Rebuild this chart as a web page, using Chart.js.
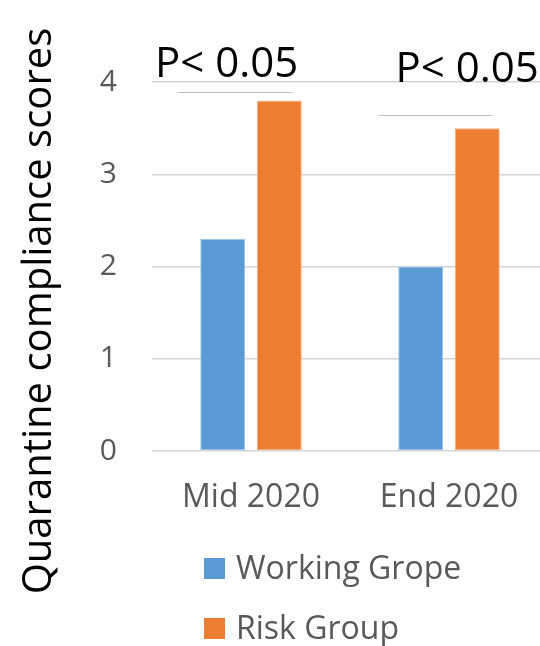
<!DOCTYPE html>
<html>
<head>
<meta charset="utf-8">
<script src="https://cdn.jsdelivr.net/npm/chart.js@4.4.1/dist/chart.umd.min.js"></script>
<style>
  html, body { margin: 0; padding: 0; background: #fff; overflow: hidden; }
  #wrap { width: 548px; height: 646px; position: relative; }
</style>
</head>
<body>
<div id="wrap"><canvas id="chart" width="548" height="646"></canvas></div>
<script>
// Survey periods and mean compliance score per group
const categories = ['Mid 2020', 'End 2020'];
const workingGroup = [2.3, 2.0];
const riskGroup = [3.8, 3.5];
const seriesNames = ['Working Grope', 'Risk Group'];
const yTicks = [0, 1, 2, 3, 4];
const significance = ['P< 0.05', 'P< 0.05'];
const yTitle = 'Quarantine compliance scores';

const BLUE = '#5B9BD5';
const ORANGE = '#ED7D31';
const FONT = "'Open Sans', sans-serif";

// Significance brackets: a thin line over each pair plus its p-value text.
// Line and text anchors are in axis units (category offset, score).
const brackets = [
  { line: { from: -0.371, to: 0.205, y: 3.89 }, text: { x: -0.485, y: 4.05 } },
  { line: { from: -0.356, to: 0.22, y: 3.64 }, text: { x: -0.27, y: 4.0 } }
];

const bracketPlugin = {
  id: 'bracketPlugin',
  afterDatasetsDraw(chart) {
    const { ctx, scales: { x, y } } = chart;
    const step = x.getPixelForValue(1) - x.getPixelForValue(0);
    ctx.save();
    brackets.forEach((b, i) => {
      const cx = x.getPixelForValue(i);
      ctx.strokeStyle = '#bfbfbf';
      ctx.lineWidth = 1;
      ctx.beginPath();
      const ly = Math.round(y.getPixelForValue(b.line.y)) + 0.5;
      ctx.moveTo(cx + b.line.from * step, ly);
      ctx.lineTo(cx + b.line.to * step, ly);
      ctx.stroke();
      ctx.fillStyle = '#000';
      ctx.font = '42px ' + FONT;
      ctx.textAlign = 'left';
      ctx.textBaseline = 'alphabetic';
      ctx.fillText(significance[i], cx + b.text.x * step, y.getPixelForValue(b.text.y));
    });
    ctx.restore();
  }
};

// Vertical axis title, centred on the full figure height
const sideTitle = {
  id: 'sideTitle',
  afterDraw(chart) {
    const { ctx } = chart;
    ctx.save();
    ctx.translate(40, 311);
    ctx.rotate(-Math.PI / 2);
    ctx.font = '40px ' + FONT;
    ctx.fillStyle = '#000';
    ctx.textAlign = 'center';
    ctx.textBaseline = 'middle';
    const w = ctx.measureText(yTitle).width;
    const s = Math.min(1, 578 / w);
    ctx.scale(s, 1);
    ctx.fillText(yTitle, 0, 0);
    ctx.restore();
  }
};

// Legend stacked in a single column below the axis
const stackedLegend = {
  id: 'stackedLegend',
  afterDraw(chart) {
    const { ctx } = chart;
    ctx.save();
    ctx.font = '32px ' + FONT;
    ctx.textBaseline = 'middle';
    ctx.textAlign = 'left';
    chart.data.datasets.forEach((ds, i) => {
      const cy = 568.5 + i * 60;
      ctx.fillStyle = ds.backgroundColor;
      ctx.fillRect(204, cy - 10.5, 21, 21);
      ctx.fillStyle = '#595959';
      ctx.fillText(ds.label, 236, cy + 1);
    });
    ctx.restore();
  }
};

new Chart(document.getElementById('chart'), {
  type: 'bar',
  data: {
    labels: categories,
    datasets: [
      {
        label: seriesNames[0],
        data: workingGroup,
        backgroundColor: BLUE,
        borderColor: '#9dc3e6',
        borderWidth: 1,
        borderSkipped: false
      },
      {
        label: seriesNames[1],
        data: riskGroup,
        backgroundColor: ORANGE,
        borderColor: '#f4b183',
        borderWidth: 1,
        borderSkipped: false
      }
    ]
  },
  options: {
    responsive: false,
    animation: false,
    devicePixelRatio: 1,
    layout: { padding: { top: 82, bottom: 125, left: 0, right: 0 } },
    datasets: { bar: { categoryPercentage: 0.571, barPercentage: 0.796 } },
    plugins: {
      legend: { display: false },
      tooltip: { enabled: false }
    },
    scales: {
      x: {
        grid: { display: false },
        border: { display: false },
        ticks: {
          color: '#595959',
          font: { family: FONT, size: 32 },
          padding: 20
        },
        afterFit(axis) { axis.height = 70; }
      },
      y: {
        min: 0,
        max: 4,
        afterBuildTicks(axis) { axis.ticks = yTicks.map(v => ({ value: v })); },
        grid: { color: '#d4d4d4', lineWidth: 1.5, drawTicks: false },
        border: { display: false },
        ticks: {
          color: '#595959',
          font: { family: FONT, size: 30 },
          padding: 35
        },
        title: { display: false },
        afterFit(axis) { axis.width = 152; }
      }
    }
  },
  plugins: [bracketPlugin, sideTitle, stackedLegend]
});
</script>
</body>
</html>
